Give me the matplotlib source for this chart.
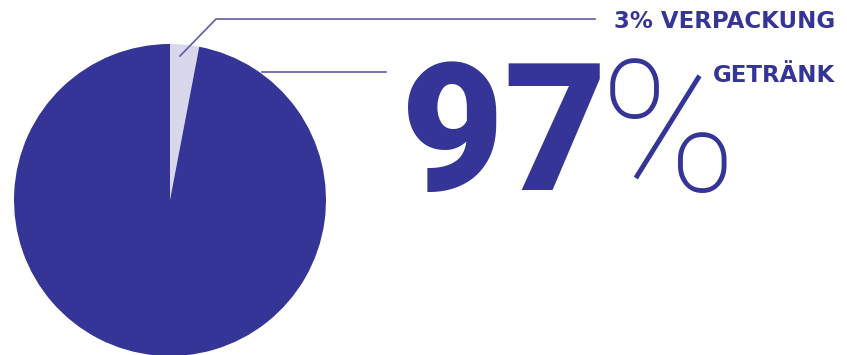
import matplotlib.pyplot as plt

# pie shares (percent), drawn clockwise from 12 o'clock
labels = ['Verpackung', 'Getränk']
shares = [3, 97]
colors = ['#d8d8ea', '#353597']

big_value = '97'
small_label = '3% VERPACKUNG'
main_label = 'GETRÄNK'

W, H = 847, 355
fig = plt.figure(figsize=(W / 100, H / 100), dpi=100)
ax = fig.add_axes([0, 0, 1, 1])

# pixel-like coordinates, y counted from the bottom
cx, cy, r = 170, H - 200, 156
ax.pie(shares, colors=colors, startangle=90, counterclock=False,
       center=(cx, cy), radius=r, frame=True,
       wedgeprops=dict(linewidth=0))
ax.set_xlim(0, W)
ax.set_ylim(0, H)
ax.set_aspect('auto')
ax.axis('off')

line_c = '#5c5cab'
# leader for the small slice
ax.plot([180, 216, 595], [H - 56, H - 19, H - 19], color=line_c, lw=1.2)
# leader for the big slice
ax.plot([262, 386], [H - 72, H - 72], color=line_c, lw=1.2)

dark = '#353597'
ax.text(835, H - 21, small_label, ha='right', va='center', color=dark,
        fontsize=16.5, fontweight='bold', family='DejaVu Sans')
ax.text(835, H - 75, main_label, ha='right', va='center', color=dark,
        fontsize=16.5, fontweight='bold', family='DejaVu Sans')

ax.text(401, H - 190, big_value, ha='left', va='baseline', color=dark,
        fontsize=128, fontweight='heavy', family='Roboto')
ax.text(600, H - 191, '%', ha='left', va='baseline', color=dark,
        fontsize=132, fontweight='light', family='Roboto')

fig.savefig('out.png', dpi=100)
